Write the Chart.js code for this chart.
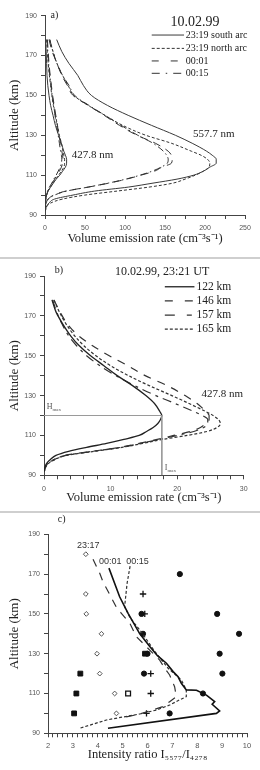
<!DOCTYPE html>
<html>
<head>
<meta charset="utf-8">
<title>Emission profiles</title>
<script src="https://cdn.jsdelivr.net/npm/chart.js@4.4.1/dist/chart.umd.min.js"></script>
<style>
  body { margin: 0; background: #fff; width: 260px; height: 770px; position: relative; overflow: hidden; }
  canvas { position: absolute; left: 0; }
  .sep { position: absolute; left: 0; width: 260px; height: 2px; background: #cfcfcf; }
</style>
</head>
<body>
<canvas id="chartA" width="260" height="256" style="top:0"></canvas>
<div class="sep" style="top:257px"></div>
<canvas id="chartB" width="260" height="252" style="top:259px"></canvas>
<div class="sep" style="top:511px"></div>
<canvas id="chartC" width="260" height="257" style="top:513px"></canvas>

<script>
// ====================== //
// DATA                   //
// ====================== //

// a) 10.02.99 - altitude grid (km) shared by all profiles
const altA = [178, 172, 166, 160, 155, 150, 145, 140, 135, 130, 126, 122, 120, 118, 116, 114, 112, 110, 108, 106, 104, 102, 100, 98, 96, 94, 92];
// 557.7 nm volume emission rate
const south5577 = [14.6, 21, 30, 41, 48, 58, 78, 104, 133, 163, 184, 202, 209, 214, 214, 206, 198, 186, 165, 135, 104, 62, 35, 12, 5, 1.5, 0.5];
const north5577 = [6, 10, 15, 22, 29, 36, 54, 75, 97, 126, 158, 183, 195, 203, 206, 205, 198, 188, 175, 160, 130, 90, 50, 22, 7, 2, 0.5];
const t0001_5577 = [5, 9, 15, 21, 28, 35, 54, 74, 93, 115, 138, 154, 158, 159, 158, 146, 137, 120, 102, 80, 54, 26, 11, 4, 1.5, 0.5, 0.2];
const t0015_5577 = [6, 10, 15, 22, 30, 37, 55, 75, 95, 116, 135, 148, 152, 154, 153, 145, 134, 119, 101, 79, 54, 27, 12, 4, 1.5, 0.5, 0.2];
// 427.8 nm volume emission rate
const south4278 = [0.5, 1.5, 2, 2.5, 3.5, 5, 7, 10, 13, 17, 20.5, 23.5, 25.5, 27, 27, 25.5, 22, 18.5, 14, 10.5, 7, 4, 2, 1, 0.5, 0.2, 0.1];
const north4278 = [2, 3, 4, 5.5, 7, 8.5, 10.5, 13, 15.5, 18, 20.5, 22.5, 23.5, 24.5, 24.5, 23.5, 20.5, 17, 13.5, 10, 6.8, 4, 2, 1, 0.5, 0.2, 0.1];
const t0001_4278 = [3, 4, 5, 6.5, 8, 9.5, 11.5, 13.5, 15.5, 17.5, 19.5, 21, 22, 22.5, 22, 20.5, 18, 15, 12, 9, 6, 3.5, 1.8, 0.9, 0.4, 0.2, 0.1];
const t0015_4278 = [2.5, 3.5, 4.5, 6, 7.5, 9, 11, 12.5, 14.5, 16.5, 18, 19.5, 20.5, 21, 20.5, 19, 16.5, 14, 11, 8.5, 5.5, 3.2, 1.6, 0.8, 0.4, 0.2, 0.1];

// b) 10.02.99, 23:21 UT - 427.8 nm profiles for several arc heights
const altB = [178, 172, 166, 160, 155, 150, 145, 140, 135, 130, 126, 122, 120, 118, 116, 114, 112, 110, 108, 106, 104, 102, 100, 98, 96, 94, 92];
const km122 = [1.2, 1.8, 2.8, 4, 5.3, 7, 9, 11, 13.3, 15.3, 16.6, 17.4, 17.7, 17.5, 17.1, 16.4, 15.4, 14.3, 12, 9.4, 6.4, 3.7, 1.8, 1.0, 0.4, 0.15, 0.05];
const km146 = [1.5, 2.4, 3.5, 5.2, 7.3, 9.8, 12.6, 15.2, 18.5, 21.2, 23, 24.3, 24.8, 24.8, 24.3, 23.5, 22, 19.5, 17, 14.3, 11.3, 7.2, 3.2, 1.6, 0.6, 0.2, 0.05];
const km157 = [1.3, 1.9, 2.7, 3.7, 4.9, 6.4, 8.4, 10.8, 13.6, 16.8, 19.7, 22.5, 23.8, 24.6, 24.6, 24, 22.5, 20, 17.3, 14.5, 11.5, 7.3, 3.3, 1.6, 0.6, 0.2, 0.05];
const km165 = [1.5, 2.3, 3.3, 4.6, 6, 7.8, 10, 12.7, 15.8, 19.2, 21.8, 24.3, 25.4, 26.2, 26.5, 26, 24.5, 21.5, 17.8, 14.8, 11.7, 7.5, 3.4, 1.7, 0.7, 0.25, 0.05];
const hMax = 120;
const iMax = 17.7;

// c) intensity ratio I5577/I4278
const ratio2317 = [3.81, 4.08, 4.21, 4.77, 4.95, 5.29, 5.55, 6.22, 6.49, 6.69, 6.89, 7.09, 7.16, 6.89, 6.62, 5.69, 4.88];
const alt2317 = [177.5, 170.4, 166.2, 152.8, 150.3, 145.3, 138.6, 130.2, 126.8, 122.7, 119.3, 113.4, 108.4, 105.9, 103.4, 99.7, 97.5];
const ratio0001 = [4.45, 4.88, 5.22, 5.69, 6.1, 6.4, 6.76, 7.03, 7.23, 7.36, 7.56, 7.97, 8.37, 8.7, 8.6, 8.9, 8.77, 4.41];
const alt0001 = [173, 158.6, 150.3, 140, 133.5, 129, 125.2, 121, 118.4, 115.1, 111.8, 111.6, 109.2, 105.9, 104.6, 101.2, 100, 92.5];
const ratio0015 = [5.3, 5.18, 5.08, 5.3, 5.75, 6.3, 6.83, 7.36, 7.56, 7.56, 7.29, 6.89, 6.36, 5.69, 4.35, 3.27];
const alt0015 = [174, 165.4, 153.6, 148, 141, 131, 122.7, 116.8, 111.8, 108.4, 106.8, 104.2, 101.7, 99.7, 96.7, 92.5];

const diamondX = [3.52, 3.52, 3.54, 4.15, 3.97, 4.08, 4.68, 4.75];
const diamondAlt = [180, 160, 150, 140, 130, 120, 110, 100];
const squareX = [5.9, 3.3, 3.14, 3.05];
const squareAlt = [130, 120, 110, 100];
const openSquareX = [5.22];
const openSquareAlt = [110];
const plusX = [5.82, 5.89, 6.13, 6.13, 5.96];
const plusAlt = [160, 150, 120, 110, 100];
const dotX = [7.3, 5.76, 8.8, 5.82, 9.68, 6.0, 8.9, 5.86, 9.01, 8.23, 6.89];
const dotAlt = [170, 150, 150, 140, 140, 130, 130, 120, 120, 110, 100];

const altTicks = {min: 90, max: 190, step: 10, labelEvery: 20};

// ====================== //
// HELPERS                //
// ====================== //

const INK = '#222';
const AXIS = '#444';
const SERIF = '"Liberation Serif", "Times New Roman", serif';
const SANS = '"Liberation Sans", Arial, sans-serif';

const pts = (xs, ys) => xs.map((v, i) => ({x: v, y: ys[i]}));
const onStep = (v, base, every) => {
    const k = (v - base) / every;
    return Math.abs(k - Math.round(k)) < 1e-6;
};

function curve(label, xs, ys, style) {
    return Object.assign({
        label: label,
        data: pts(xs, ys),
        borderColor: '#333',
        borderWidth: 1,
        pointRadius: 0,
        fill: false,
        cubicInterpolationMode: 'monotone'
    }, style);
}

function xAxis(o) {
    return {
        type: 'linear', min: o.min, max: o.max,
        afterFit: s => { s.height = o.height; },
        border: {color: AXIS, width: 1},
        grid: {drawOnChartArea: false, drawTicks: true, tickLength: 4, color: AXIS},
        ticks: {
            stepSize: o.step, autoSkip: false, maxRotation: 0, padding: o.pad,
            color: '#555', font: {family: SANS, size: o.fontSize || 7},
            callback: v => onStep(v, o.min, o.labelEvery) ? String(Math.round(v)) : ''
        },
        title: {display: true, text: o.title, color: INK,
            font: {family: SERIF, size: 12.5}, padding: {top: 0, bottom: o.titlePad}}
    };
}

function yAxis(width) {
    return {
        type: 'linear', min: altTicks.min, max: altTicks.max,
        afterFit: s => { s.width = width; },
        border: {color: AXIS, width: 1},
        grid: {drawOnChartArea: false, drawTicks: true, tickLength: 4, color: AXIS},
        ticks: {
            stepSize: altTicks.step, autoSkip: false, padding: 4,
            color: '#555', font: {family: SANS, size: 7},
            callback: v => onStep(v, altTicks.min, altTicks.labelEvery) ? String(v) : ''
        },
        title: {display: true, text: 'Altitude (km)', color: INK,
            font: {family: SERIF, size: 13}, padding: {top: 7, bottom: 0}}
    };
}

// texts and legend rows placed in data units of the panel
const textLayer = {
    id: 'textLayer',
    afterDatasetsDraw(chart, args, opts) {
        const ctx = chart.ctx;
        const xs = chart.scales.x, ys = chart.scales.y;
        ctx.save();
        ctx.textBaseline = 'middle';
        (opts.items || []).forEach(it => {
            const px = xs.getPixelForValue(it.x);
            const py = ys.getPixelForValue(it.y);
            ctx.fillStyle = it.color || INK;
            ctx.font = it.font;
            ctx.textAlign = it.align || 'left';
            ctx.fillText(it.text, px, py);
            if (it.sub) {
                const w = ctx.measureText(it.text).width;
                ctx.font = it.subFont;
                ctx.textAlign = 'left';
                ctx.fillText(it.sub, px + w, py + 2.5);
            }
        });
        const lg = opts.legend;
        if (lg) {
            chart.data.datasets.forEach(ds => {
                if (ds.legendRow === undefined) return;
                const py = ys.getPixelForValue(lg.rows[ds.legendRow]);
                ctx.strokeStyle = ds.borderColor;
                ctx.lineWidth = ds.borderWidth;
                ctx.setLineDash(ds.legendDash || ds.borderDash || []);
                ctx.beginPath();
                ctx.moveTo(xs.getPixelForValue(lg.x0), py);
                ctx.lineTo(xs.getPixelForValue(lg.x1), py);
                ctx.stroke();
                ctx.setLineDash([]);
                ctx.font = lg.font;
                ctx.fillStyle = INK;
                ctx.textAlign = 'left';
                ctx.fillText(ds.label, xs.getPixelForValue(lg.xText), py);
            });
        }
        ctx.restore();
    }
};

const baseOptions = (padding) => ({
    responsive: false,
    animation: false,
    events: [],
    layout: {padding: padding},
    plugins: {legend: {display: false}, tooltip: {enabled: false}}
});

// ====================== //
// PANEL A                //
// ====================== //

const DASH_N = [3, 2];
const DASH_01 = [8, 6];
const DASH_15 = [7, 3, 1.5, 3];

new Chart(document.getElementById('chartA'), {
    type: 'line',
    data: {
        datasets: [
            curve('23:19 south arc', south5577, altA, {legendRow: 0, borderColor: '#3a3a3a'}),
            curve('23:19 north arc', north5577, altA, {legendRow: 1, borderDash: DASH_N}),
            curve('00:01', t0001_5577, altA, {legendRow: 2, borderDash: DASH_01, legendDash: [7, 12]}),
            curve('00:15', t0015_5577, altA, {legendRow: 3, borderDash: DASH_15, legendDash: [8, 6, 1.5, 6]}),
            curve('23:19 south arc 427.8', south4278, altA, {borderColor: '#3a3a3a'}),
            curve('23:19 north arc 427.8', north4278, altA, {borderDash: DASH_N}),
            curve('00:01 427.8', t0001_4278, altA, {borderDash: DASH_01}),
            curve('00:15 427.8', t0015_4278, altA, {borderDash: DASH_15})
        ]
    },
    options: Object.assign(baseOptions({top: 15.7, right: 15, left: 0, bottom: 0}), {
        indexAxis: 'y',
        scales: {
            x: xAxis({min: 0, max: 250, step: 25, labelEvery: 50, height: 41, pad: 5,
                title: 'Volume emission rate (cm\u207B\u00B3s\u207B\u00B9)', titlePad: 9.5}),
            y: yAxis(45)
        }
    }, {
        plugins: {
            legend: {display: false}, tooltip: {enabled: false},
            textLayer: {
                items: [
                    {text: 'a)', x: 7, y: 190.3, font: `10px ${SERIF}`},
                    {text: '10.02.99', x: 187.5, y: 186.8, align: 'center', font: `14px ${SERIF}`},
                    {text: '557.7 nm', x: 185, y: 130.6, font: `11px ${SERIF}`},
                    {text: '427.8 nm', x: 33.4, y: 120.1, font: `11px ${SERIF}`}
                ],
                legend: {x0: 133.4, x1: 173.8, xText: 176, rows: [180.3, 173.6, 167.3, 161.1], font: `10px ${SERIF}`}
            }
        }
    }),
    plugins: [textLayer]
});

// ====================== //
// PANEL B                //
// ====================== //

new Chart(document.getElementById('chartB'), {
    type: 'line',
    data: {
        datasets: [
            {
                label: 'Hmax / Imax',
                data: [{x: 0, y: hMax}, {x: iMax, y: hMax}, {x: iMax, y: altTicks.min}],
                borderColor: '#9a9a9a', borderWidth: 1, pointRadius: 0, fill: false
            },
            curve('122 km', km122, altB, {legendRow: 0, borderColor: '#222', borderWidth: 1.3}),
            curve('146 km', km146, altB, {legendRow: 1, borderDash: [8, 7], borderWidth: 1.2, legendDash: [8, 12]}),
            curve('157 km', km157, altB, {legendRow: 2, borderDash: [9, 5, 3, 5], borderWidth: 1.2, legendDash: [10, 12, 5, 5]}),
            curve('165 km', km165, altB, {legendRow: 3, borderDash: [3, 2], borderWidth: 1.2})
        ]
    },
    options: Object.assign(baseOptions({top: 17, right: 16.3, left: 0, bottom: 0}), {
        indexAxis: 'y',
        scales: {
            x: xAxis({min: 0, max: 30, step: 2, labelEvery: 10, height: 35.7, pad: 6,
                title: 'Volume emission rate (cm\u207B\u00B3s\u207B\u00B9)', titlePad: 5.5}),
            y: yAxis(44)
        }
    }, {
        plugins: {
            legend: {display: false}, tooltip: {enabled: false},
            textLayer: {
                items: [
                    {text: 'b)', x: 1.6, y: 193, font: `10px ${SERIF}`},
                    {text: '10.02.99, 23:21 UT', x: 10.65, y: 192.2, font: `12px ${SERIF}`},
                    {text: '427.8 nm', x: 23.65, y: 130.8, font: `11px ${SERIF}`},
                    {text: 'H', x: 0.4, y: 124.4, font: `8px ${SERIF}`, color: '#555', sub: 'max', subFont: `5px ${SERIF}`},
                    {text: 'I', x: 18.15, y: 93.5, font: `8px ${SERIF}`, color: '#555', sub: 'max', subFont: `5px ${SERIF}`}
                ],
                legend: {x0: 18.15, x1: 22.6, xText: 22.9, rows: [184.6, 177.5, 170.4, 163.3], font: `11.5px ${SERIF}`}
            }
        }
    }),
    plugins: [textLayer]
});

// ====================== //
// PANEL C                //
// ====================== //

const ratioLine = (label, xs, ys, style) => Object.assign({
    label: label, data: pts(xs, ys), showLine: true, pointRadius: 0,
    borderColor: '#111', borderWidth: 1.2, tension: 0, fill: false
}, style);

const marks = (label, xs, ys, style) => Object.assign({
    label: label, data: pts(xs, ys), showLine: false,
    borderColor: '#111', backgroundColor: '#111', borderWidth: 1
}, style);

new Chart(document.getElementById('chartC'), {
    type: 'scatter',
    data: {
        datasets: [
            ratioLine('23:17', ratio2317, alt2317, {borderDash: [8, 7], borderColor: '#333'}),
            ratioLine('00:01', ratio0001, alt0001, {borderWidth: 1.6}),
            ratioLine('00:15', ratio0015, alt0015, {borderDash: [3, 2], borderColor: '#333'}),
            marks('open diamonds', diamondX, diamondAlt, {pointStyle: 'rectRot', pointRadius: 2.4, backgroundColor: '#fff', borderColor: '#555'}),
            marks('filled squares', squareX, squareAlt, {pointStyle: 'rect', pointRadius: 3.4}),
            marks('open square', openSquareX, openSquareAlt, {pointStyle: 'rect', pointRadius: 3.4, backgroundColor: '#fff', borderWidth: 1.3}),
            marks('crosses', plusX, plusAlt, {pointStyle: 'cross', pointRadius: 3.2, borderWidth: 1.3}),
            marks('dots', dotX, dotAlt, {pointStyle: 'circle', pointRadius: 2.6})
        ]
    },
    options: Object.assign(baseOptions({top: 21.3, right: 13, left: 0, bottom: 0}), {
        scales: {
            x: xAxis({min: 2, max: 10, step: 0.2, labelEvery: 1, height: 36.7, pad: 4, fontSize: 7.5,
                title: 'Intensity ratio I\u2085\u2085\u2087\u2087/I\u2084\u2082\u2087\u2088', titlePad: 7.5}),
            y: yAxis(48)
        }
    }, {
        plugins: {
            legend: {display: false}, tooltip: {enabled: false},
            textLayer: {
                items: [
                    {text: 'c)', x: 2.39, y: 197.5, font: `10px ${SERIF}`},
                    {text: '23:17', x: 3.17, y: 184.6, font: `9px ${SANS}`, color: '#333'},
                    {text: '00:01', x: 4.05, y: 176.2, font: `9px ${SANS}`, color: '#333'},
                    {text: '00:15', x: 5.15, y: 176.2, font: `9px ${SANS}`, color: '#333'}
                ]
            }
        }
    }),
    plugins: [textLayer]
});
</script>
</body>
</html>
